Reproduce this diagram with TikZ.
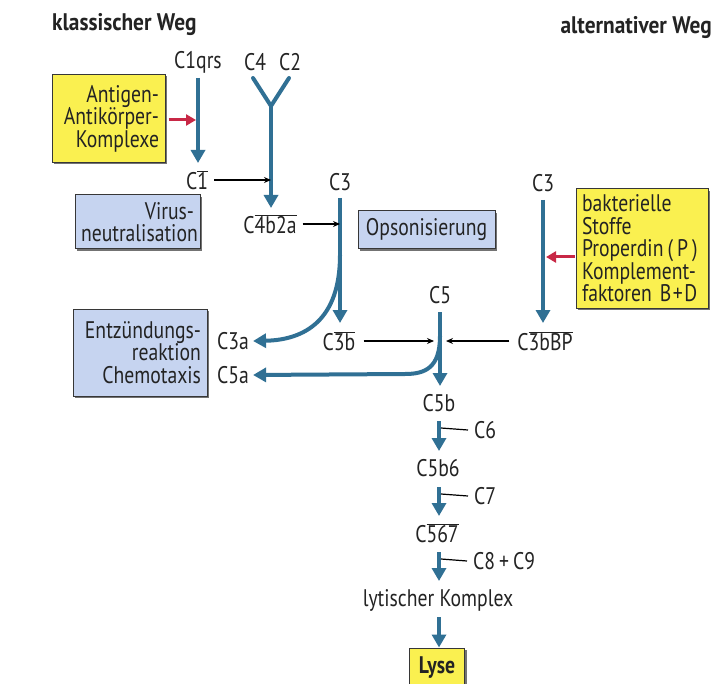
\documentclass[tikz,border=0pt]{standalone}
\usepackage{fontspec}
\setmainfont{PT Sans}[FakeStretch=0.82]
\newfontfamily\titlefont{PT Sans}[FakeStretch=0.89]
\usetikzlibrary{arrows.meta,shadows}
\definecolor{cblue}{RGB}{48,112,148}
\definecolor{cyel}{RGB}{250,240,80}
\definecolor{clb}{RGB}{198,212,240}
\definecolor{cred}{RGB}{200,40,70}
\definecolor{cbord}{RGB}{55,55,55}
\definecolor{ctext}{RGB}{35,35,35}
\newcommand\ovl[1]{\ensuremath{\overline{\mbox{#1}}}}
\tikzset{
  lbl/.style={font=\fontsize{24}{22.5}\selectfont, text=ctext, inner sep=0pt},
  ttl/.style={font=\titlefont\fontsize{24}{24}\selectfont\bfseries, text=ctext, inner sep=0pt},
  infobox/.style={draw=cbord, line width=1pt, inner xsep=6pt, inner ysep=0pt,
    drop shadow={shadow xshift=2pt, shadow yshift=-2pt, fill=black!55, opacity=1},
    text=ctext, font=\fontsize{24}{22.5}\selectfont},
  ybox/.style={infobox, fill=cyel},
  bbox/.style={infobox, fill=clb},
  barrow/.style={draw=cblue, line width=4pt, -{Triangle[length=13pt,width=14pt]}},
  bline/.style={draw=cblue, line width=4pt},
  karrow/.style={draw=black, line width=1.2pt, -{Stealth[length=7pt,width=6pt]}},
  kline/.style={draw=black, line width=1.2pt},
  rarrow/.style={draw=cred, line width=3pt, -{Triangle[length=10pt,width=11pt]}},
}
\begin{document}
\begin{tikzpicture}[x=1pt,y=-1pt]
\clip (0,0) rectangle (714,684);
\fill[white] (0,0) rectangle (714,684);

% titles
\node[ttl, anchor=west] (kw) at (52,25) {klassischer Weg};
\node[ttl, anchor=east] (aw) at (712,28) {alternativer Weg};

% labels
\node[lbl] (c1qrs) at (198,62) {C1qrs};
\node[lbl] (c4) at (255,62) {C4};
\node[lbl] (c2) at (290,62) {C2};
\node[lbl] (c1bar) at (197,180) {C\ovl{1}};
\node[lbl] (c4b2a) at (270,224) {C\ovl{4b2a}};
\node[lbl] (c3) at (340,182) {C3};
\node[lbl] (c3b) at (339,341) {C\ovl{3b}};
\node[lbl] (c3a) at (233,341) {C3a};
\node[lbl] (c5a) at (233,375) {C5a};
\node[lbl] (c5) at (440,295) {C5};
\node[lbl] (c3r) at (543,183) {C3};
\node[lbl] (c3bbp) at (545,341) {C\ovl{3bBP}};
\node[lbl] (c5b) at (439,403) {C5b};
\node[lbl, anchor=west] (c6) at (474,430) {C6};
\node[lbl] (c5b6) at (438,468) {C5b6};
\node[lbl, anchor=west] (c7) at (474,496) {C7};
\node[lbl] (c567) at (437,533) {C\ovl{567}};
\node[lbl, anchor=west] (c89) at (473,561) {C8\,+\,C9};
\node[lbl] (lyt) at (438,600) {lytischer Komplex};

% boxes
\node[ybox, minimum width=113pt, minimum height=88pt, text width=101pt, align=right] (ag) at (108.5,118.5) {Antigen-\\Antikörper-\\Komplexe};
\node[bbox, minimum width=125pt, minimum height=54pt, text width=113pt, align=right] (vir) at (137.5,222) {Virus-\\neutralisation};
\node[bbox, minimum width=137pt, minimum height=38pt, align=center] (ops) at (426.5,230) {Opsonisierung};
\node[bbox, minimum width=134pt, minimum height=87pt, text width=122pt, align=right] (ent) at (140,352.5) {Entzündungs-\\reaktion\\Chemotaxis};
\node[ybox, minimum width=132pt, minimum height=119pt, inner xsep=6pt, text width=120pt, align=left] (bak) at (642,248.5) {bakterielle\\Stoffe\\Properdin\,(\,P\,)\\Komplement-\\\mbox{faktoren B\kern1.5pt+\kern1.5pt D}};
\node[ybox, minimum width=55pt, minimum height=40pt, font=\fontsize{24}{24}\selectfont\bfseries] (lyse) at (437,668) {Lyse};

% coordinates
\coordinate (yl) at (253,78);
\coordinate (yr) at (289,78);
\coordinate (yj) at (271,106);
\coordinate (c3top) at (340,198);
\coordinate (c3split) at (340,255);
\coordinate (c5top) at (440,312);
\coordinate (c5split) at (440,336);
\coordinate (c5hor) at (405,374);
\coordinate (c3rtop) at (543,200);
\coordinate (c3rred) at (543,257);
\coordinate (c1red) at (198,120);
\coordinate (c4in) at (271,180);
\coordinate (c3in) at (340,224);
\coordinate (c5in) at (440,341);

% blue arrows
\draw[barrow] (198,78) -- (198,163);
\draw[bline, line cap=round] (yl) -- (yj) -- (yr);
\draw[barrow] (yj) -- (271,208);
\draw[barrow] (c3top) -- (340,323);
\draw[barrow] (c3split) .. controls (340,320) and (305,340) .. ([xshift=4pt]c3a.east) ;
\draw[barrow] (c5top) -- (440,386);
\draw[barrow] (c5split) .. controls (440,368) and (425,374) .. (c5hor) -- ([xshift=4pt]c5a.east);
\draw[barrow] (c3rtop) -- (543,323);
\draw[barrow] (439,421) -- (439,451);
\draw[barrow] (439,487) -- (439,516);
\draw[barrow] (439,552) -- (439,581);
\draw[barrow] (439,617) -- (lyse.north -| 439,0);

% ticks
\draw[kline] (441,428) -- ([xshift=-6pt]c6.west);
\draw[kline] (441,494) -- ([xshift=-6pt]c7.west);
\draw[kline] (441,559) -- ([xshift=-6pt]c89.west);

% black arrows
\draw[karrow] ([xshift=6pt]c1bar.east) -- (c4in);
\draw[karrow] ([xshift=6pt]c4b2a.east) -- (c3in);
\draw[karrow] ([xshift=8pt]c3b.east) -- ([xshift=-6pt]c5in);
\draw[karrow] ([xshift=-8pt]c3bbp.west) -- ([xshift=6pt]c5in);

% red arrows
\draw[rarrow] ([xshift=3pt]ag.east |- c1red) -- ([xshift=-2pt]c1red);
\draw[rarrow] ([xshift=-1pt]bak.west |- c3rred) -- ([xshift=3pt]c3rred);
\end{tikzpicture}
\end{document}
